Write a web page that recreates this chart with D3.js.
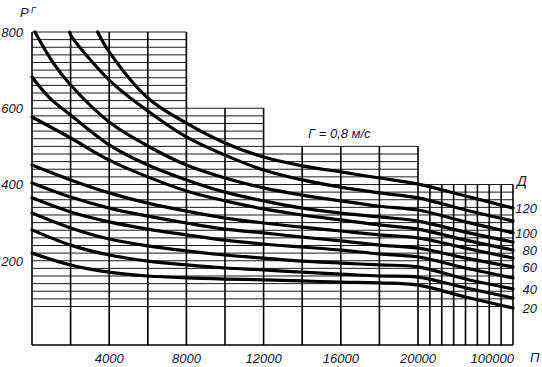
<!DOCTYPE html>
<html>
  <head>
    <title></title>
    <script src="https://cdnjs.cloudflare.com/ajax/libs/d3/7.8.5/d3.min.js"></script>
    <style>
      body { margin: 0; background: #fff; }
      text { font-family: "Liberation Sans", Arial, sans-serif; font-style: italic; fill: #16163a; }
    </style>
  </head>
  <body>
    <script type="text/javascript">

    // curves: [П, P_Г] pairs, one per Д
    let d120 = [[3400,800],[4000,748],[6000,627],[8000,561],[10000,509],[12000,472],[14000,449],[16000,433],[18000,417],[20000,401],[60000,370],[100000,338]];
    let d110 = [[1950,800],[2000,792],[4000,674],[6000,593],[8000,525],[10000,477],[12000,438],[14000,412],[16000,393],[18000,378],[20000,365],[60000,333],[100000,304]];
    let d100 = [[150,800],[1100,719],[2000,661],[4000,564],[6000,501],[8000,451],[10000,417],[12000,391],[14000,372],[16000,357],[18000,343],[20000,333],[60000,302],[100000,273]];
    let d90 = [[0,682],[900,628],[2000,582],[4000,504],[6000,451],[8000,412],[10000,380],[12000,357],[14000,338],[16000,325],[18000,315],[20000,304],[60000,275],[100000,249]];
    let d80 = [[0,577],[2000,522],[4000,464],[6000,420],[8000,383],[10000,357],[12000,336],[14000,320],[16000,307],[18000,294],[20000,283],[60000,254],[100000,228]];
    let d70 = [[0,451],[2000,412],[4000,378],[6000,351],[8000,330],[10000,312],[12000,299],[14000,288],[16000,278],[18000,268],[20000,260],[60000,233],[100000,207]];
    let d60 = [[0,404],[2000,367],[4000,338],[6000,317],[8000,299],[10000,283],[12000,273],[14000,262],[16000,252],[18000,241],[20000,233],[60000,207],[100000,184]];
    let d50 = [[0,365],[2000,328],[4000,302],[6000,283],[8000,268],[10000,254],[12000,244],[14000,236],[16000,228],[18000,218],[20000,210],[60000,181],[100000,155]];
    let d40 = [[0,325],[2000,286],[4000,257],[6000,239],[8000,226],[10000,215],[12000,207],[14000,199],[16000,194],[18000,189],[20000,184],[60000,152],[100000,126]];
    let d30 = [[0,281],[2000,241],[4000,215],[6000,199],[8000,189],[10000,181],[12000,176],[14000,170],[16000,165],[18000,160],[20000,157],[60000,129],[100000,102]];
    let d20 = [[0,220],[2000,189],[4000,170],[6000,160],[8000,155],[10000,152],[12000,150],[14000,147],[16000,144],[18000,142],[20000,136],[60000,105],[100000,76]];

    let levels = [120, 110, 100, 90, 80, 70, 60, 50, 40, 30, 20];
    let curves = [d120, d110, d100, d90, d80, d70, d60, d50, d40, d30, d20];

    let xTicks = [4000, 8000, 12000, 16000, 20000, 100000];
    let yTicks = [800, 600, 400, 200];
    let vLines = [0, 2000, 4000, 6000, 8000, 10000, 12000, 14000, 16000, 18000, 20000,
                  30000, 40000, 50000, 60000, 70000, 80000, 90000, 100000];
    let hLines = d3.range(80, 801, 20);
    // stepped top edge of the grid: [up to П, top P]
    let steps = [[8000, 800], [12000, 600], [20000, 500], [100000, 400]];

    let svg = d3.select("body").append("svg")
      .attr("width", 542)
      .attr("height", 367);

    // linear to 20000, then a compressed part up to 100000
    let x = d3.scaleLinear().domain([0, 20000, 100000]).range([32, 418, 513]);
    let y = d3.scaleLinear().domain([-21, 800]).range([345, 32]);

    function topAt(p) { return steps.find(s => p <= s[0])[1]; }
    function rightAt(v) { return steps.filter(s => v <= s[1]).pop()[0]; }

    let grid = svg.append("g");
    grid.selectAll(".h").data(hLines).enter().append("line")
      .attr("x1", x(0)).attr("x2", d => x(rightAt(d)))
      .attr("y1", d => y(d)).attr("y2", d => y(d))
      .attr("stroke", "#1a1a1a").attr("stroke-width", 1);
    grid.selectAll(".v").data(vLines).enter().append("line")
      .attr("x1", d => x(d)).attr("x2", d => x(d))
      .attr("y1", y(-21)).attr("y2", d => y(topAt(d)))
      .attr("stroke", "#000").attr("stroke-width", 1.6);
    grid.append("line")
      .attr("x1", x(0)).attr("x2", x(100000))
      .attr("y1", y(-21)).attr("y2", y(-21))
      .attr("stroke", "#000").attr("stroke-width", 1.6);

    let line = d3.line()
      .x(d => x(d[0]))
      .y(d => y(d[1]))
      .curve(d3.curveCatmullRom.alpha(0.5));

    svg.append("g").selectAll("path").data(curves).enter().append("path")
      .attr("d", line)
      .attr("fill", "none")
      .attr("stroke", "#000")
      .attr("stroke-width", 3.2)
      .attr("stroke-linecap", "round");

    // axis labels
    svg.append("g").selectAll("text").data(yTicks).enter().append("text")
      .attr("x", 23).attr("y", d => y(d) + 5)
      .attr("text-anchor", "end").attr("font-size", 13)
      .text(d => d);

    svg.append("g").selectAll("text").data(xTicks).enter().append("text")
      .attr("x", d => d === 100000 ? x(d) + 1 : x(d))
      .attr("y", 363)
      .attr("text-anchor", d => d === 100000 ? "end" : "middle")
      .attr("font-size", 13)
      .text(d => d);

    // Д labels at curve ends
    let ends = levels.map((l, i) => [l, curves[i][curves[i].length - 1][1]]).filter(e => e[0] % 20 === 0);
    svg.append("g").selectAll("text").data(ends).enter().append("text")
      .attr("x", 537).attr("y", d => y(d[1]) + 5)
      .attr("text-anchor", "end").attr("font-size", 13)
      .text(d => d[0]);

    svg.append("text").attr("x", 517).attr("y", 186).attr("font-size", 14).text("Д");
    svg.append("text").attr("x", 530).attr("y", 362).attr("font-size", 13).text("П");
    svg.append("text").attr("x", 20).attr("y", 17).attr("font-size", 13).text("P");
    svg.append("text").attr("x", 31).attr("y", 13).attr("font-size", 9).text("Г");
    svg.append("text").attr("x", 308).attr("y", 138).attr("font-size", 13).text("Г = 0,8 м/с");

    </script>
  </body>
</html>
